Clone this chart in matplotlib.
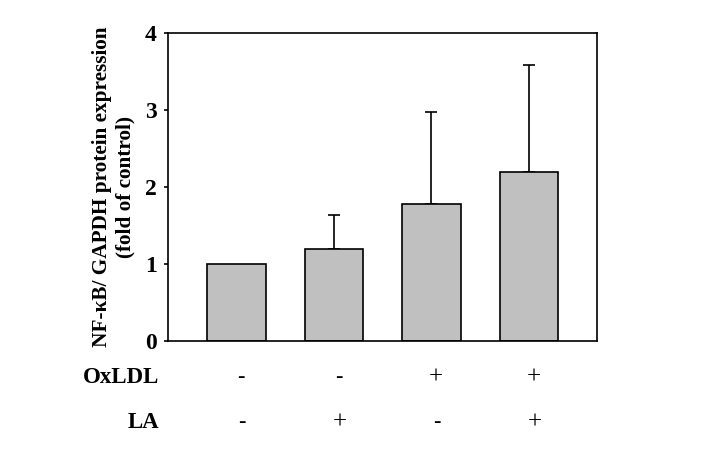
import matplotlib.pyplot as plt

plt.rcParams['font.family'] = ['Liberation Serif', 'DejaVu Serif']

# data
means = [1.0, 1.19, 1.78, 2.19]
err_up = [0.0, 0.45, 1.20, 1.40]
oxldl = ['-', '-', '+', '+']
la = ['-', '+', '-', '+']

fig = plt.figure(figsize=(7.06, 4.63), dpi=100)
ax = fig.add_axes([0.238, 0.2635, 0.6076, 0.6652])

x = list(range(len(means)))
ax.bar(x, means, width=0.6, color='#c0c0c0', edgecolor='black', linewidth=1.2, zorder=2)

# upper error bars only
ex = [i for i in x if err_up[i] > 0]
ax.errorbar(ex, [means[i] for i in ex], yerr=[[0] * len(ex), [err_up[i] for i in ex]],
            fmt='none', ecolor='black', elinewidth=1.2, capsize=4, capthick=1.2, zorder=1)

ax.set_xlim(-0.7, 3.7)
ax.set_ylim(0, 4)
ax.set_yticks([0, 1, 2, 3, 4])
ax.set_xticks([])
for s in ax.spines.values():
    s.set_linewidth(1.2)
ax.tick_params(axis='y', direction='out', length=3, width=1.2, labelsize=17, pad=5)
for lab in ax.get_yticklabels():
    lab.set_fontweight('bold')

ax.set_ylabel('NF-κB/ GAPDH protein expression\n(fold of control)',
              fontsize=15.3, fontweight='bold', labelpad=7, linespacing=1.2)

# treatment rows under the bars
trans = ax.get_xaxis_transform()
ax.text(-0.02, -0.117, 'OxLDL', transform=ax.transAxes, ha='right', va='center',
        fontsize=16.5, fontweight='bold')
ax.text(-0.02, -0.266, 'LA', transform=ax.transAxes, ha='right', va='center',
        fontsize=16.5, fontweight='bold')
for i in x:
    ax.text(i + 0.05, -0.117, oxldl[i], transform=trans, ha='center', va='center',
            fontsize=16 if oxldl[i] == '-' else 18,
            fontweight='bold' if oxldl[i] == '-' else 'normal')
    ax.text(i + 0.06, -0.266, la[i], transform=trans, ha='center', va='center',
            fontsize=16 if la[i] == '-' else 18)

plt.savefig('out.png', dpi=100)
